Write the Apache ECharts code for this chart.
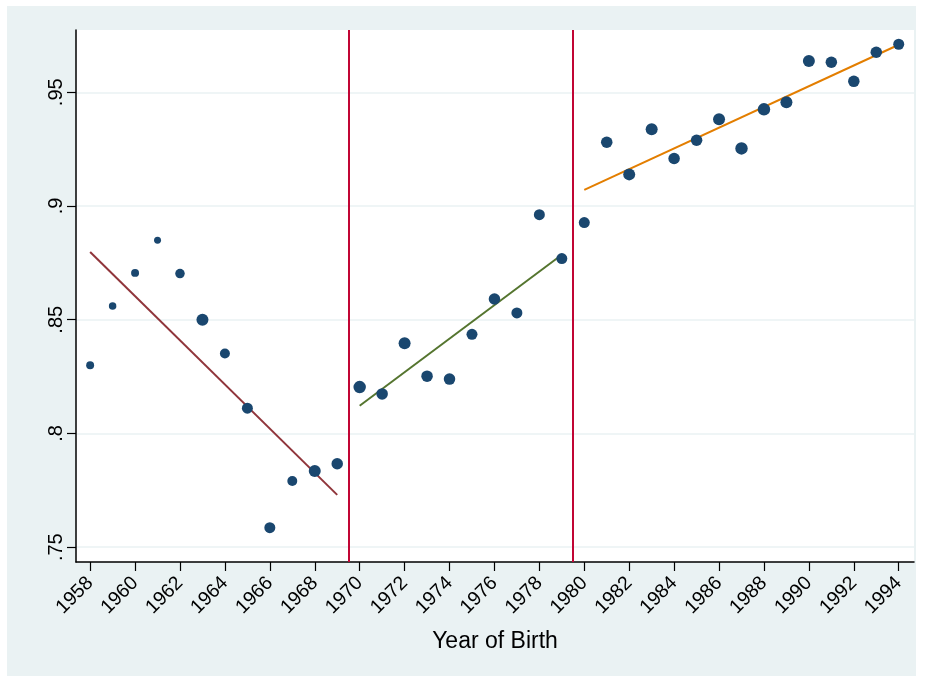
<!DOCTYPE html>
<html>
<head>
<meta charset="utf-8">
<script src="https://cdn.jsdelivr.net/npm/echarts@6/dist/echarts.min.js"></script>
<style>
  html, body { margin: 0; padding: 0; background: #ffffff; }
  #chart { position: absolute; left: 7px; top: 6px; width: 909px; height: 670px; background: #eaf2f3; }
</style>
</head>
<body>
<div id="chart"></div>
<script>
// ---- data ----
const years = [1958,1959,1960,1961,1962,1963,1964,1965,1966,1967,1968,1969,
               1970,1971,1972,1973,1974,1975,1976,1977,1978,1979,
               1980,1981,1982,1983,1984,1985,1986,1987,1988,1989,1990,1991,1992,1993,1994];
const shares = [0.830,0.856,0.8706,0.8849,0.8703,0.850,0.8352,0.8111,0.7586,0.7791,0.7835,0.7867,
                0.8204,0.8174,0.8397,0.8252,0.8239,0.8436,0.8591,0.8530,0.8962,0.8769,
                0.8927,0.9280,0.9139,0.9337,0.9209,0.9289,0.9381,0.9253,0.9425,0.9456,0.9637,0.9632,0.9548,0.9676,0.9711];
// relative cohort weights (drive marker area)
const weights = [44,39,44,34,63,100,69,84,84,69,100,92,
                 108,92,100,92,92,84,92,84,84,84,
                 84,92,100,100,92,92,100,108,108,100,100,92,92,92,84];
// fitted lines per period: [startYear, endYear] and [startValue, endValue]
const fit1Years = [1958, 1969], fit1Values = [0.8798, 0.7730];
const fit2Years = [1970, 1979], fit2Values = [0.8122, 0.8786];
const fit3Years = [1980, 1994], fit3Values = [0.9071, 0.9709];
// period breaks
const breaks = [1969.5, 1979.5];
// axis ticks
const xTicks = [1958,1960,1962,1964,1966,1968,1970,1972,1974,1976,1978,1980,1982,1984,1986,1988,1990,1992,1994];
const yTicks = [0.75, 0.8, 0.85, 0.9, 0.95];
const xTitle = 'Year of Birth';

// ---- chart ----
const font = '"Liberation Sans", Arial, Helvetica, sans-serif';
const pts = years.map((y, i) => [y, shares[i], weights[i]]);
const pair = (xs, vs) => xs.map((x, i) => [x, vs[i]]);

const fitSeries = (xs, vs, color) => ({
  type: 'line', data: pair(xs, vs), symbol: 'none', silent: true,
  lineStyle: { color: color, width: 2 }, z: 3
});

const chart = echarts.init(document.getElementById('chart'), null, { renderer: 'canvas' });
chart.setOption({
  animation: false,
  textStyle: { fontFamily: font },
  grid: {
    left: 69, right: 2, top: 24, bottom: 114,
    show: true, backgroundColor: '#ffffff', borderWidth: 0
  },
  xAxis: {
    type: 'value', min: 1957.37, max: 1994.68,
    name: xTitle, nameLocation: 'middle', nameGap: 68,
    nameTextStyle: { fontSize: 23, color: '#000', fontFamily: font },
    axisLine: { show: true, onZero: false, lineStyle: { color: '#000', width: 1.5 } },
    axisTick: { show: true, length: 9, customValues: xTicks, lineStyle: { color: '#000', width: 1.2 } },
    axisLabel: {
      show: true, customValues: xTicks, rotate: 45, margin: 18, fontSize: 19.5, color: '#000', fontFamily: font,
      formatter: v => String(Math.round(v))
    },
    splitLine: { show: false }
  },
  yAxis: {
    type: 'value', min: 0.7435, max: 0.97737,
    axisLine: { show: true, onZero: false, lineStyle: { color: '#000', width: 1.5 } },
    axisTick: { show: true, length: 9, customValues: yTicks, lineStyle: { color: '#000', width: 1.2 } },
    axisLabel: {
      show: true, customValues: yTicks, rotate: 90, margin: 10, fontSize: 20, color: '#000', fontFamily: font,
      formatter: v => String(+v.toFixed(2)).replace(/^0/, '')
    },
    splitLine: { show: true, lineStyle: { color: '#eaf2f3', width: 1.5 } }
  },
  series: [
    {
      type: 'scatter', data: pts, z: 4,
      symbol: 'circle',
      symbolSize: d => 12 * Math.sqrt(d[2] / 100),
      itemStyle: { color: '#1a476f', opacity: 1 },
      markLine: {
        silent: true, symbol: ['none', 'none'], label: { show: false },
        lineStyle: { color: '#c10534', width: 2, type: 'solid' },
        data: breaks.map(b => ({ xAxis: b }))
      }
    },
    fitSeries(fit1Years, fit1Values, '#90353b'),
    fitSeries(fit2Years, fit2Values, '#55752f'),
    fitSeries(fit3Years, fit3Values, '#e37e00')
  ]
});
</script>
</body>
</html>
